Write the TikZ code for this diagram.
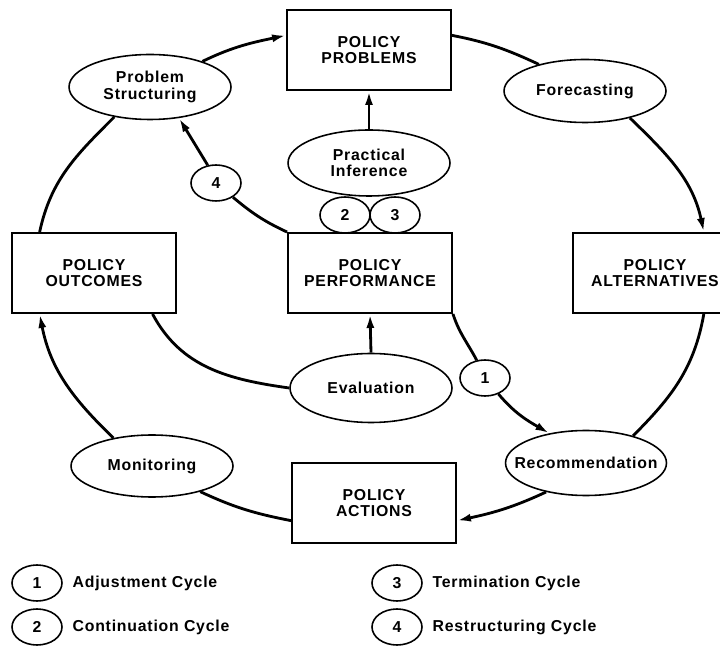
\documentclass[tikz,border=0pt]{standalone}
\usepackage{fontspec}
\setmainfont{Liberation Sans}[LetterSpace=5]
\usetikzlibrary{shapes.geometric,arrows.meta,positioning}

\begin{document}
\begin{tikzpicture}[x=0.02cm,y=0.02cm,
  font=\fontsize{9}{9.5}\selectfont\bfseries,
  box/.style={draw,line width=1.1pt,minimum width=3.28cm,minimum height=1.6cm,align=center},
  oval/.style={draw,ellipse,line width=0.9pt,minimum width=3.24cm,minimum height=1.3cm,align=center,inner xsep=-3mm,inner ysep=0pt},
  num/.style={draw,ellipse,line width=0.9pt,minimum width=1cm,minimum height=0.72cm,inner sep=0pt},
  legend/.style={inner sep=0pt,anchor=west},
  flow/.style={line width=1.6pt},
  arr/.style={flow,-{Latex[length=2.8mm,width=1.6mm]}}]
\useasboundingbox (0,0) rectangle (720,646);
\node[box] (prob) at (369,596) {POLICY\\PROBLEMS};
\node[box] (outc) at (94,373) {POLICY\\OUTCOMES};
\node[box] (perf) at (370,373) {POLICY\\PERFORMANCE};
\node[box] (alt) at (655,373) {POLICY\\ALTERNATIVES};
\node[box] (act) at (374,143) {POLICY\\ACTIONS};
\node[oval] (struct) at (150,559) {Problem\\Structuring};
\node[oval,minimum height=1.26cm] (fore) at (585,555) {Forecasting};
\node[oval,minimum height=1.32cm] (infer) at (369,483) {Practical\\Inference};
\node[oval,minimum height=1.38cm] (eval) at (371,258) {Evaluation};
\node[oval,minimum height=1.24cm] (mon) at (152,180) {Monitoring};
\node[oval,minimum width=3.22cm,inner xsep=-4mm] (rec) at (586,183) {Recommendation};
\node[num] (cOne) at (485,268) {1};
\node[num] (cTwo) at (345,431) {2};
\node[num] (cThree) at (395,431) {3};
\node[num] (cFour) at (216,463) {4};
\draw[arr] (struct.26) to[out=26,in=192] (prob.170);
\draw[flow] (prob.10) to[out=-11,in=155] (fore.150);
\draw[arr] (fore.-31) to[out=-44,in=102] (alt.40);
\draw[flow] (alt.-40) to[out=-100,in=45] (rec.30);
\draw[arr] (rec.-144) to[out=205,in=12] (act.-12);
\draw[flow] (act.192) to[out=169,in=-25] (mon.-28);
\draw[arr] (mon.144) to[out=136,in=-79] (outc.-143.5);
\draw[flow] (outc.143.5) to[out=78,in=225] (struct.-140);
\draw[flow] (outc.-35.5) to[out=-62,in=172] (eval.west);
\draw[arr] (eval.north) -- (perf.south);
\draw[arr] (infer.north) -- (prob.south);
\draw[flow] (perf.south east) to[out=-72,in=118] (cOne.115);
\draw[arr] (cOne.-50) to[out=-50,in=150] (rec.141);
\draw[flow] (perf.north west) to[out=155,in=-40] (cFour.-40);
\draw[arr] (cFour.115) -- (struct.-47);
\node[num] (lOne) at (37,63) {1};
\node[num] (lTwo) at (37,19) {2};
\node[num] (lThree) at (397,63) {3};
\node[num] (lFour) at (397,19) {4};
\node[legend,right=0.19cm of lOne] (tOne) {Adjustment Cycle};
\node[legend,right=0.19cm of lTwo] (tTwo) {Continuation Cycle};
\node[legend,right=0.19cm of lThree] (tThree) {Termination Cycle};
\node[legend,right=0.19cm of lFour] (tFour) {Restructuring Cycle};
\end{tikzpicture}
\end{document}
